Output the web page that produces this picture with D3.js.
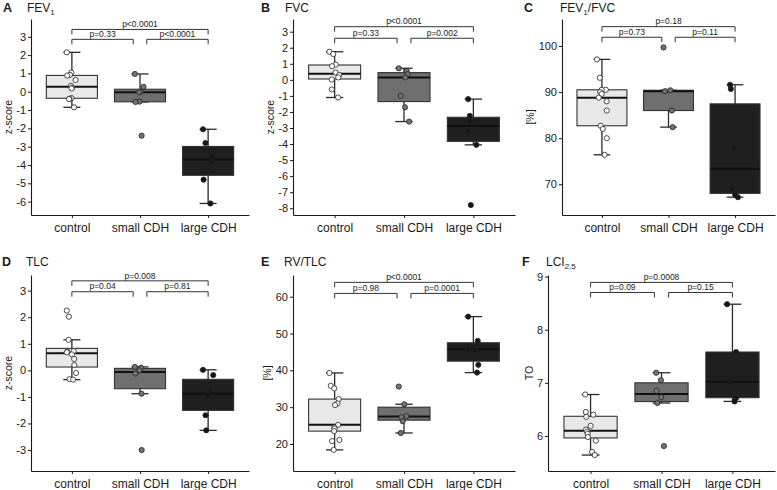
<!DOCTYPE html>
<html>
<head>
<meta charset="utf-8">
<script src="https://cdn.jsdelivr.net/npm/d3@7"></script>
<style>
  body { margin: 0; background: #fff; }
  svg { display: block; font-family: 'Liberation Sans', Arial, sans-serif; }
</style>
</head>
<body>
<svg width="777" height="490"></svg>
<script>
'use strict';

/* Groups on the x axis. */
var categories = ['control', 'small CDH', 'large CDH'];

/* A: FEV1, z-score. */
var fev1Control = [2.15, 1.04, 0.92, 0.88, 0.64, 0.32, 0.22, 0.18, -0.35, -0.38, -0.40, -0.85];
var fev1Small = [0.97, 0.27, 0.00, -0.03, -0.54, -0.56, -2.40];
var fev1Large = [-2.05, -2.80, -3.55, -3.85, -4.80, -6.10];
var fev1P = ['p=0.33', 'p<0.0001', 'p<0.0001'];
var fev1Ticks = [-6, -5, -4, -3, -2, -1, 0, 1, 2, 3];

/* B: FVC, z-score. */
var fvcControl = [1.75, 1.61, 0.95, 0.85, 0.45, 0.30, 0.15, 0.02, -0.60, -1.10];
var fvcSmall = [0.72, 0.55, 0.35, 0.15, -1.00, -1.71, -2.60];
var fvcLarge = [-1.20, -2.25, -2.58, -3.18, -4.05, -7.80];
var fvcP = ['p=0.33', 'p=0.002', 'p<0.0001'];
var fvcTicks = [-8, -7, -6, -5, -4, -3, -2, -1, 0, 1, 2, 3];

/* C: FEV1/FVC, percent. */
var ratioControl = [97.1, 93.1, 90.5, 90.5, 90.0, 89.6, 88.8, 88.0, 86.0, 82.7, 82.0, 80.0, 76.4];
var ratioSmall = [99.7, 90.4, 90.2, 86.0, 82.4];
var ratioLarge = [91.6, 90.7, 77.7, 69.0, 67.7, 67.2];
var ratioP = ['p=0.73', 'p=0.11', 'p=0.18'];
var ratioTicks = [70, 80, 90, 100];

/* D: TLC, z-score. */
var tlcControl = [2.25, 2.02, 1.15, 0.72, 0.70, 0.68, 0.60, 0.43, 0.20, -0.10, -0.33, -0.35];
var tlcSmall = [0.13, 0.10, 0.00, -0.12, -0.88, -3.00];
var tlcLarge = [0.02, -0.18, -0.81, -0.96, -1.69, -2.26];
var tlcP = ['p=0.04', 'p=0.81', 'p=0.008'];
var tlcTicks = [-3, -2, -1, 0, 1, 2, 3];

/* E: RV/TLC, percent. */
var rvControl = [39.3, 35.8, 35.1, 32.2, 31.0, 30.6, 25.2, 24.5, 24.2, 23.5, 21.1, 20.8, 18.4];
var rvSmall = [35.6, 30.8, 27.6, 27.3, 26.2, 23.0];
var rvLarge = [54.6, 48.0, 46.0, 45.5, 41.5, 39.4];
var rvP = ['p=0.98', 'p=0.0001', 'p<0.0001'];
var rvTicks = [20, 30, 40, 50, 60];

/* F: LCI2.5, turnovers. */
var lciControl = [6.78, 6.45, 6.40, 6.36, 6.19, 6.12, 6.08, 6.04, 5.98, 5.91, 5.70, 5.64];
var lciSmall = [7.19, 7.05, 6.85, 6.73, 6.62, 5.81];
var lciLarge = [8.48, 7.58, 7.02, 6.72, 6.65];
var lciP = ['p=0.09', 'p=0.15', 'p=0.0008'];
var lciTicks = [6, 7, 8, 9];

/* Fill per group: box and points. */
var boxFill = ['#e8e8e8', '#6f6f6f', '#1f1f1f'];
var pointFill = ['#ffffff', '#737373', '#161616'];

/* Panel setup: data, axis limits, bracket heights (data units) and placement. */
var panels = [
  {letter: 'A', title: ['FEV', '1', ''], yLabel: 'z-score', groups: [fev1Control, fev1Small, fev1Large],
    pValues: fev1P, ticks: fev1Ticks, domain: [-6.73, 3.97], bracketY: [2.86, 3.40],
    left: 31, right: 249, top: 19, bottom: 215, letterX: 3, titleX: 27, titleY: 12},
  {letter: 'B', title: ['FVC', '', ''], yLabel: 'z-score', groups: [fvcControl, fvcSmall, fvcLarge],
    pValues: fvcP, ticks: fvcTicks, domain: [-8.42, 3.79], bracketY: [2.59, 3.31],
    left: 293, right: 515, top: 19, bottom: 215, letterX: 261, titleX: 285, titleY: 12},
  {letter: 'C', title: ['FEV', '1', '/FVC'], yLabel: '[%]', groups: [ratioControl, ratioSmall, ratioLarge],
    pValues: ratioP, ticks: ratioTicks, domain: [63.34, 105.86], bracketY: [101.9, 104.2],
    left: 562, right: 775, top: 19, bottom: 215, letterX: 524, titleX: 560, titleY: 12},
  {letter: 'D', title: ['TLC', '', ''], yLabel: 'z-score', groups: [tlcControl, tlcSmall, tlcLarge],
    pValues: tlcP, ticks: tlcTicks, domain: [-3.79, 3.59], bracketY: [2.96, 3.37],
    left: 31, right: 249, top: 275, bottom: 471, letterX: 2, titleX: 26, titleY: 266},
  {letter: 'E', title: ['RV/TLC', '', ''], yLabel: '[%]', groups: [rvControl, rvSmall, rvLarge],
    pValues: rvP, ticks: rvTicks, domain: [12.67, 65.9], bracketY: [60.9, 63.9],
    left: 293, right: 515, top: 275, bottom: 471, letterX: 261, titleX: 284, titleY: 266},
  {letter: 'F', title: ['LCI', '2.5', ''], yLabel: 'TO', groups: [lciControl, lciSmall, lciLarge],
    pValues: lciP, ticks: lciTicks, domain: [5.34, 9.03], bracketY: [8.70, 8.89],
    left: 548, right: 775, top: 275, bottom: 471, letterX: 522, titleX: 546, titleY: 266}
];

var svg = d3.select('svg');
var ink = '#1a1a1a';

panels.forEach(drawPanel);

function drawPanel(p, index) {
  var g = svg.append('g');

  var x = d3.scalePoint().domain(categories).range([p.left, p.right]).padding(0.6);
  var step = x.step();
  var y = d3.scaleLinear().domain(p.domain).range([p.bottom, p.top]);

  /* Letter and title. */
  g.append('text')
    .attr('x', p.letterX).attr('y', p.titleY)
    .attr('font-size', 12.5).attr('font-weight', 'bold').attr('fill', ink)
    .text(p.letter);

  var title = g.append('text')
    .attr('x', p.titleX).attr('y', p.titleY)
    .attr('font-size', 12).attr('fill', ink);
  title.append('tspan').text(p.title[0]);
  if (p.title[1]) {
    title.append('tspan').attr('font-size', 8).attr('dy', 3).text(p.title[1]);
    title.append('tspan').attr('dy', -3).text(p.title[2]);
  }

  /* Axes. */
  var yAxis = g.append('g')
    .attr('transform', 'translate(' + p.left + ',0)')
    .call(d3.axisLeft(y).tickValues(p.ticks).tickSize(3).tickSizeOuter(0).tickPadding(2).tickFormat(String));

  var xAxis = g.append('g')
    .attr('transform', 'translate(0,' + p.bottom + ')')
    .call(d3.axisBottom(x).tickSize(3).tickSizeOuter(0).tickPadding(5));

  [yAxis, xAxis].forEach(function (axis) {
    axis.select('.domain').attr('stroke', ink).attr('stroke-width', 1.1);
    axis.selectAll('.tick line').attr('stroke', ink).attr('stroke-width', 1);
    axis.selectAll('.tick text').attr('fill', ink).attr('font-family', null);
  });
  yAxis.selectAll('.tick text').attr('font-size', 11);
  xAxis.selectAll('.tick text').attr('font-size', 12);

  /* Y title, placed left of the widest tick label. */
  var widest = d3.max(yAxis.selectAll('.tick text').nodes(), function (n) {
    return n.getComputedTextLength();
  });
  g.append('text')
    .attr('transform', 'translate(' + (p.left - 13 - widest) + ',' + ((p.top + p.bottom) / 2) + ') rotate(-90)')
    .attr('text-anchor', 'middle').attr('dy', '0.35em')
    .attr('font-size', 10.5).attr('fill', ink)
    .text(p.yLabel);

  /* Box statistics (R type 7 quantiles, 1.5 IQR whiskers). */
  var stats = p.groups.map(function (values, i) {
    var sorted = values.slice().sort(d3.ascending);
    var q1 = d3.quantileSorted(sorted, 0.25);
    var q3 = d3.quantileSorted(sorted, 0.75);
    var iqr = q3 - q1;
    var inside = sorted.filter(function (v) {
      return v >= q1 - 1.5 * iqr && v <= q3 + 1.5 * iqr;
    });
    return {
      index: i,
      category: categories[i],
      values: values,
      q1: q1,
      median: d3.quantileSorted(sorted, 0.5),
      q3: q3,
      low: d3.min(inside),
      high: d3.max(inside)
    };
  });

  var cap = step * 0.25 / 2;
  var half = step * 0.75 / 2;

  var groups = g.selectAll('.group')
    .data(stats)
    .enter()
    .append('g')
    .attr('class', 'group');

  /* Error bar whiskers. */
  groups.append('line')
    .attr('x1', cx).attr('x2', cx)
    .attr('y1', function (d) { return y(d.low); })
    .attr('y2', function (d) { return y(d.high); })
    .attr('stroke', '#2a2a2a').attr('stroke-width', 1.3);

  ['low', 'high'].forEach(function (key) {
    groups.append('line')
      .attr('x1', function (d) { return cx(d) - cap; })
      .attr('x2', function (d) { return cx(d) + cap; })
      .attr('y1', function (d) { return y(d[key]); })
      .attr('y2', function (d) { return y(d[key]); })
      .attr('stroke', '#2a2a2a').attr('stroke-width', 1.3);
  });

  /* Boxes and medians. */
  groups.append('rect')
    .attr('x', function (d) { return cx(d) - half; })
    .attr('width', half * 2)
    .attr('y', function (d) { return y(d.q3); })
    .attr('height', function (d) { return y(d.q1) - y(d.q3); })
    .attr('fill', function (d) { return boxFill[d.index]; })
    .attr('stroke', '#333').attr('stroke-width', 1.1);

  groups.append('line')
    .attr('x1', function (d) { return cx(d) - half; })
    .attr('x2', function (d) { return cx(d) + half; })
    .attr('y1', function (d) { return y(d.median); })
    .attr('y2', function (d) { return y(d.median); })
    .attr('stroke', '#111').attr('stroke-width', 2);

  /* Jittered points (fixed seed per group). */
  groups.each(function (d) {
    var rand = lcg(index * 7 + d.index * 3 + 11);
    d3.select(this).selectAll('circle')
      .data(d.values)
      .enter()
      .append('circle')
      .attr('cx', function () { return cx(d) + (rand() - 0.5) * step * 0.15; })
      .attr('cy', function (v) { return y(v); })
      .attr('r', 2.6)
      .attr('fill', pointFill[d.index])
      .attr('stroke', '#222').attr('stroke-width', 0.8);
  });

  /* Significance brackets: two adjacent pairs, then control vs large. */
  var shorten = step * 0.1;
  var brackets = [
    {x1: x(categories[0]), x2: x(categories[1]) - shorten, y: p.bracketY[0], label: p.pValues[0]},
    {x1: x(categories[1]) + shorten, x2: x(categories[2]), y: p.bracketY[0], label: p.pValues[1]},
    {x1: x(categories[0]), x2: x(categories[2]), y: p.bracketY[1], label: p.pValues[2]}
  ];

  brackets.forEach(function (b) {
    var by = y(b.y);
    g.append('path')
      .attr('d', 'M' + b.x1 + ',' + (by + 5) + 'V' + by + 'H' + b.x2 + 'V' + (by + 5))
      .attr('fill', 'none').attr('stroke', '#333').attr('stroke-width', 1);
    g.append('text')
      .attr('x', (b.x1 + b.x2) / 2).attr('y', by - 2.3)
      .attr('text-anchor', 'middle')
      .attr('font-size', 8.5).attr('fill', ink)
      .text(b.label);
  });

  function cx(d) {
    return x(d.category);
  }
}

/* Small deterministic generator for the jitter. */
function lcg(seed) {
  var s = seed;
  return function () {
    s = (s * 16807) % 2147483647;
    return (s - 1) / 2147483646;
  };
}
</script>
</body>
</html>
